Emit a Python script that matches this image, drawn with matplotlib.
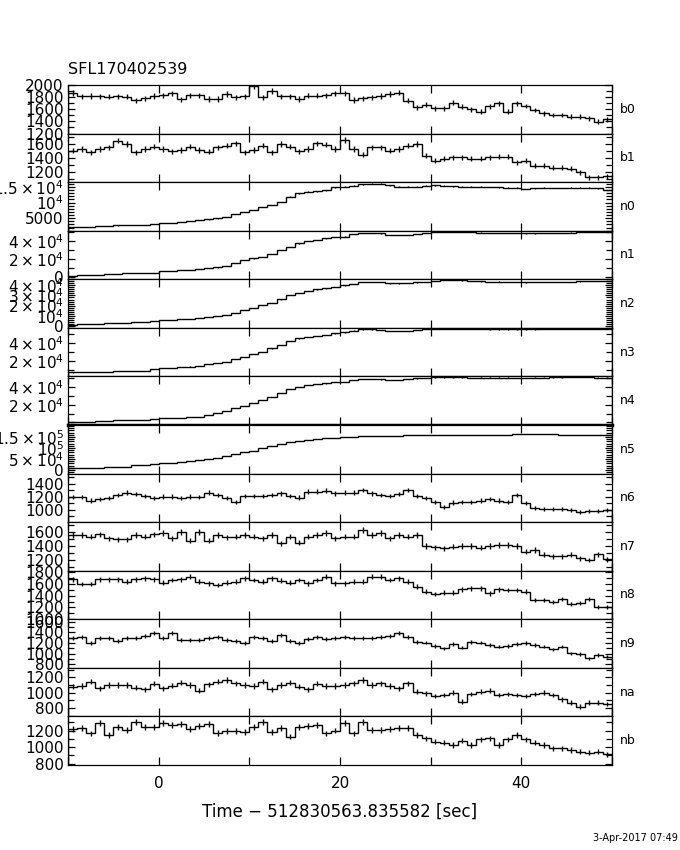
'''
Quick-look light curves of the 14 GBM detectors for SFL170402539
(1 s bins, count rate per detector).
'''
import numpy as np
import matplotlib
matplotlib.use('Agg')
import matplotlib.pyplot as plt
from matplotlib.ticker import MultipleLocator, FixedLocator, FuncFormatter

# bin edges in seconds relative to the trigger reference time
time_edges = np.arange(-10, 51, 1.0)

detectors = ['b0', 'b1', 'n0', 'n1', 'n2', 'n3', 'n4',
             'n5', 'n6', 'n7', 'n8', 'n9', 'na', 'nb']

b0_rate = [1870, 1815, 1820, 1815, 1810, 1815, 1810, 1745, 1780, 1820,
           1830, 1860, 1765, 1830, 1830, 1770, 1770, 1850, 1800, 1815,
           1985, 1800, 1900, 1815, 1815, 1770, 1825, 1825, 1830, 1865,
           1863, 1753, 1781, 1797, 1819, 1852, 1874, 1742, 1633, 1671,
           1616, 1616, 1709, 1640, 1600, 1561, 1650, 1700, 1561, 1699,
           1654, 1589, 1534, 1506, 1506, 1478, 1478, 1452, 1396, 1435]
b1_rate = [1505, 1530, 1481, 1530, 1553, 1650, 1601, 1481, 1530, 1563,
           1530, 1495, 1515, 1563, 1515, 1490, 1553, 1577, 1610, 1481,
           1515, 1577, 1481, 1601, 1563, 1495, 1530, 1610, 1591, 1530,
           1659, 1530, 1448, 1553, 1553, 1505, 1530, 1577, 1601, 1433,
           1361, 1385, 1409, 1409, 1385, 1385, 1409, 1419, 1419, 1337,
           1361, 1289, 1289, 1256, 1256, 1241, 1193, 1121, 1121, 1135]
n0_rate = [2240, 2240, 2250, 2560, 2560, 2700, 2780, 2780, 2800, 3100,
           3520, 3550, 3840, 4150, 4380, 4600, 4920, 5430, 6290, 7030,
           7570, 8620, 9160, 10210, 11810, 12890, 13410, 13630, 13950, 14810,
           15000, 15400, 15800, 16050, 16050, 15500, 15000, 15000, 15100, 15400,
           15450, 15350, 15200, 15050, 15000, 15000, 14950, 14850, 14700, 14700,
           14300, 14500, 14750, 14650, 14600, 14700, 14750, 14750, 14500, 14000]
n1_rate = [1500, 2120, 2120, 2150, 3000, 3600, 4000, 4300, 4660, 4900,
           6530, 6600, 7630, 7800, 9000, 9500, 10500, 12360, 15700, 18640,
           20500, 22270, 25240, 29640, 33280, 37020, 39550, 40650, 42520, 44290,
           44500, 47260, 48700, 48700, 48000, 46200, 46200, 46200, 47260, 48700,
           49800, 49800, 49800, 49800, 49800, 49000, 48700, 48700, 48700, 48700,
           48000, 48000, 48700, 48700, 48700, 49000, 49800, 49800, 49800, 49800]
n2_rate = [1300, 1450, 1450, 1450, 2440, 2440, 2440, 3430, 3430, 5000,
           5700, 5700, 6690, 7000, 7680, 8960, 9500, 10640, 12910, 15580,
           17850, 20520, 22790, 26140, 30390, 32670, 34640, 36020, 37010, 38590,
           40000, 41260, 43530, 43530, 43300, 41950, 41950, 42300, 42930, 43500,
           44520, 45180, 45180, 44800, 44200, 43900, 43530, 43800, 43530, 43530,
           43000, 43530, 43530, 43530, 43530, 43530, 44000, 44200, 44200, 44200]
n3_rate = [7400, 7560, 7560, 7560, 8230, 8700, 9340, 9340, 9340, 11560,
           12670, 12670, 13780, 14000, 14890, 16440, 17560, 19340, 22340, 24890,
           27890, 30450, 34220, 37890, 42330, 45330, 47110, 47890, 49000, 50890,
           52000, 54000, 55330, 55330, 54560, 53440, 53440, 53440, 54500, 55670,
           55670, 55670, 55600, 55600, 55450, 55450, 55330, 55330, 55330, 55330,
           55300, 55300, 55500, 55500, 55600, 55600, 55700, 55700, 55700, 55700]
n4_rate = [730, 730, 730, 1000, 1870, 2660, 2660, 2660, 2660, 3790,
           5000, 5260, 5260, 5800, 6390, 8310, 10240, 12840, 15900, 18500,
           22240, 25290, 29030, 32870, 37400, 40340, 42270, 43400, 44190, 46000,
           46000, 48000, 49400, 49400, 48700, 48000, 48000, 49000, 49800, 50500,
           51000, 51000, 51000, 50800, 50500, 50600, 50600, 50600, 50600, 50500,
           50500, 50600, 50700, 50800, 50900, 51200, 51300, 51300, 50600, 50600]
n5_rate = [8100, 8100, 8100, 9000, 15400, 15400, 15400, 23100, 23100, 27000,
           30800, 32000, 35400, 41300, 45900, 50400, 56300, 64000, 73100, 80900,
           88100, 99000, 109500, 118600, 126300, 132200, 136800, 140000, 144500, 147300,
           150000, 152000, 155000, 156300, 156300, 156300, 156300, 158000, 161000, 160000,
           158000, 158000, 160000, 161000, 161000, 161000, 161000, 161000, 161000, 163000,
           164000, 164000, 164000, 164000, 161000, 161000, 161000, 161000, 161000, 161000]
n6_rate = [1199, 1195, 1142, 1163, 1179, 1230, 1265, 1245, 1214, 1179,
           1204, 1204, 1179, 1204, 1195, 1265, 1230, 1179, 1126, 1214,
           1214, 1214, 1230, 1256, 1214, 1188, 1281, 1281, 1296, 1256,
           1265, 1265, 1307, 1256, 1230, 1214, 1245, 1307, 1214, 1179,
           1126, 1040, 1111, 1126, 1126, 1142, 1168, 1142, 1126, 1230,
           1102, 1024, 1009, 1009, 1009, 1000, 972, 980, 980, 1000]
n7_rate = [1561, 1561, 1536, 1570, 1513, 1499, 1499, 1561, 1536, 1570,
           1593, 1513, 1608, 1479, 1608, 1479, 1561, 1527, 1536, 1561,
           1536, 1513, 1561, 1442, 1536, 1450, 1536, 1561, 1593, 1513,
           1536, 1536, 1632, 1561, 1593, 1513, 1561, 1536, 1561, 1403,
           1385, 1370, 1394, 1403, 1403, 1380, 1403, 1418, 1418, 1403,
           1322, 1346, 1275, 1260, 1260, 1275, 1227, 1203, 1289, 1213]
n8_rate = [1674, 1596, 1596, 1674, 1674, 1674, 1634, 1674, 1692, 1674,
           1618, 1663, 1674, 1719, 1634, 1607, 1579, 1618, 1634, 1692,
           1663, 1634, 1692, 1652, 1618, 1663, 1607, 1663, 1719, 1607,
           1607, 1634, 1634, 1719, 1719, 1663, 1692, 1634, 1550, 1466,
           1427, 1449, 1449, 1506, 1523, 1523, 1439, 1506, 1494, 1494,
           1466, 1326, 1326, 1297, 1337, 1258, 1270, 1337, 1203, 1203]
n9_rate = [1290, 1321, 1196, 1290, 1290, 1245, 1290, 1290, 1334, 1397,
           1300, 1385, 1258, 1258, 1258, 1290, 1309, 1258, 1245, 1207,
           1321, 1290, 1245, 1353, 1245, 1196, 1271, 1321, 1277, 1302,
           1321, 1290, 1290, 1290, 1309, 1334, 1385, 1309, 1226, 1208,
           1145, 1101, 1182, 1113, 1226, 1208, 1163, 1132, 1145, 1182,
           1195, 1163, 1132, 1082, 1132, 1006, 994, 912, 974, 942]
na_rate = [1080, 1088, 1145, 1058, 1101, 1101, 1101, 1067, 1045, 1115,
           1058, 1093, 1132, 1101, 1027, 1110, 1145, 1167, 1123, 1101,
           1088, 1145, 1045, 1101, 1132, 1080, 1045, 1115, 1088, 1088,
           1101, 1123, 1167, 1101, 1123, 1088, 1058, 1123, 1014, 993,
           958, 971, 1001, 883, 984, 1014, 1027, 971, 984, 971,
           958, 984, 1001, 971, 915, 870, 818, 870, 870, 853]
nb_rate = [1215, 1227, 1166, 1287, 1146, 1246, 1206, 1307, 1246, 1246,
           1287, 1267, 1279, 1215, 1255, 1279, 1174, 1198, 1198, 1186,
           1246, 1300, 1186, 1227, 1126, 1246, 1255, 1267, 1166, 1200,
           1290, 1165, 1300, 1206, 1206, 1215, 1227, 1227, 1146, 1106,
           1065, 1053, 1026, 1077, 1026, 1094, 1106, 1026, 1094, 1146,
           1094, 1053, 1026, 986, 986, 966, 946, 933, 946, 914]

rates = [b0_rate, b1_rate, n0_rate, n1_rate, n2_rate, n3_rate, n4_rate,
         n5_rate, n6_rate, n7_rate, n8_rate, n9_rate, na_rate, nb_rate]

# y range, labelled ticks and minor tick step for every panel
axis_setup = {
    'b0': ((1200, 2000), [1200, 1400, 1600, 1800, 2000], 100),
    'b1': ((1050, 1750), [1200, 1400, 1600], 100),
    'n0': ((1000, 16500), [5000, 10000, 15000], 1000),
    'n1': ((-2500, 51000), [0, 20000, 40000], 10000),
    'n2': ((-2000, 46000), [0, 10000, 20000, 30000, 40000], 2000),
    'n3': ((3000, 57000), [20000, 40000], 10000),
    'n4': ((-3000, 52000), [20000, 40000], 10000),
    'n5': ((-16000, 205000), [0, 50000, 100000, 150000], 10000),
    'n6': ((810, 1560), [1000, 1200, 1400], 100),
    'n7': ((1050, 1745), [1200, 1400, 1600], 100),
    'n8': ((1000, 1820), [1000, 1200, 1400, 1600, 1800], 100),
    'n9': ((730, 1650), [800, 1000, 1200, 1400, 1600], 100),
    'na': ((690, 1325), [800, 1000, 1200], 100),
    'nb': ((785, 1370), [800, 1000, 1200], 100),
}


def count_label(v, pos=None):
    """
    Tick label in the quick-look style: plain below 10^4, a x 10^n above.
    """
    if v == 0:
        return '0'
    if abs(v) < 1e4:
        return '%d' % v
    exp = int(np.floor(np.log10(v)))
    mant = v / 10 ** exp
    if np.isclose(mant, 1):
        return r'$10^{%d}$' % exp
    return r'$%g\times10^{%d}$' % (mant, exp)


def plot_panel(ax, name, rate, last):
    """
    Draw one detector light curve as a histogram with Poisson error bars.
    """
    rate = np.asarray(rate, dtype=float)
    centers = 0.5 * (time_edges[:-1] + time_edges[1:])
    widths = np.diff(time_edges)

    ax.stairs(rate, time_edges, color='black', lw=1.0)
    ax.errorbar(centers, rate, yerr=np.sqrt(rate / widths), fmt='none',
                ecolor='black', elinewidth=1.0, capsize=0)

    ylim, ticks, minor = axis_setup[name]
    ax.set_xlim(-10, 50)
    ax.set_ylim(*ylim)
    ax.yaxis.set_major_locator(FixedLocator(ticks))
    ax.yaxis.set_minor_locator(MultipleLocator(minor))
    ax.yaxis.set_major_formatter(FuncFormatter(count_label))
    ax.xaxis.set_major_locator(MultipleLocator(10))
    ax.xaxis.set_major_formatter(
        FuncFormatter(lambda v, p: '%d' % v if v % 20 == 0 else ''))

    ax.tick_params(axis='x', which='major', direction='in', length=5.5,
                   width=0.9, top=True, bottom=True, labelbottom=last, pad=8)
    ax.tick_params(axis='y', which='major', direction='in', length=5,
                   width=0.9, left=True, right=True, pad=3)
    ax.tick_params(axis='y', which='minor', direction='in', length=4,
                   width=0.9, left=True, right=True)
    for spine in ax.spines.values():
        spine.set_linewidth(0.9)

    ax.text(1.015, 0.5, name, transform=ax.transAxes, ha='left',
            va='center', fontsize=9)


plt.rcParams['font.family'] = 'DejaVu Sans'
plt.rcParams['font.size'] = 11
plt.rcParams['mathtext.fontset'] = 'dejavusans'

fig = plt.figure(figsize=(6.8, 8.5), dpi=100)
n_panels = len(detectors)
left, width, bottom, height = 0.1, 0.8, 0.1, 0.8
panel_h = height / n_panels

for i, (name, rate) in enumerate(zip(detectors, rates)):
    ax = fig.add_axes([left, bottom + (n_panels - 1 - i) * panel_h,
                       width, panel_h])
    plot_panel(ax, name, rate, last=(i == n_panels - 1))
    if name == 'n4':
        ax.spines['bottom'].set_linewidth(2.5)

fig.text(0.1, 1 - 70 / 850, 'SFL170402539', fontsize=11.5, ha='left',
         va='center')
fig.text(0.5, 1 - 812 / 850, u'Time \u2212 512830563.835582 [sec]',
         fontsize=12, ha='center', va='center')
fig.text(0.997, 1 - 838 / 850, '3-Apr-2017 07:49', fontsize=7,
         ha='right', va='center')

fig.savefig('out.png', dpi=100)
